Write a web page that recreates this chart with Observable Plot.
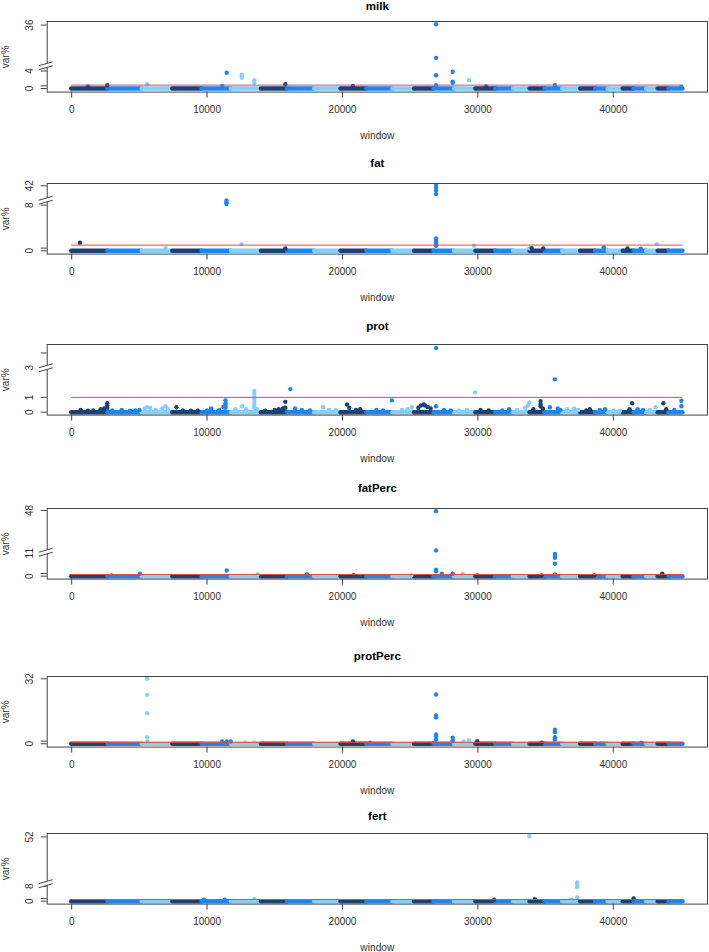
<!DOCTYPE html>
<html><head><meta charset="utf-8">
<script src="https://cdn.jsdelivr.net/npm/d3@7"></script>
<script src="https://cdn.jsdelivr.net/npm/@observablehq/plot@0.6"></script>
<style>
body{margin:0;background:#fff;}
#root{position:relative;width:709px;height:952px;overflow:hidden;background:#fff;}
.panel{position:absolute;left:0;}
</style></head><body><div id="root"></div>
<script>
// ---------------- DATA ----------------
const panelNames = ["milk", "fat", "prot", "fatPerc", "protPerc", "fert"];
// chromosome boundaries (window index)
const chromBounds = [0, 2680, 5210, 7470, 9640, 11800, 14010, 15950, 17940, 19890, 21800, 23720, 25320, 26770, 28270, 29850, 31320, 32620, 33850, 34960, 36260, 37590, 38690, 39620, 40730, 41540, 42460, 43310, 44120, 45150];
const xTicks = [0, 10000, 20000, 30000, 40000];
const thresholds = [0.77, 1.0, 1.0, 0.8, 0.7, 0.9];

const milkPeaks = [[1200,0.45],[2630,0.77],[5580,1.0],[11110,0.6],[11450,3.62],[12560,3.17],[12560,2.49],[13490,1.9],[13490,1.29],[15780,1.0],[20770,0.6],[26910,36.2],[26910,28.6],[26910,3.03],[26910,0.77],[28140,3.85],[28140,1.58],[28140,1.29],[29350,1.9],[30600,0.45],[35690,0.77],[45030,0.4]];
const fatPeaks = [[610,1.4],[6930,0.47],[11430,8.81],[11430,8.46],[11430,8.18],[12560,1.17],[15780,0.4],[26910,42.12],[26910,41.65],[26910,41.12],[26910,40.55],[26910,2.15],[26910,1.87],[26910,1.58],[26910,1.17],[26910,0.88],[29720,0.88],[33800,0.45],[33970,0.47],[34830,0.4],[39300,0.58],[41050,0.4],[42030,0.35],[43210,1.17]];
const protPeaks = [[660,0.15],[1200,0.1],[1600,0.12],[2140,0.2],[2400,0.25],[2630,0.6],[2630,0.45],[2630,0.3],
 [3000,0.12],[3700,0.15],[4300,0.1],[4700,0.12],[5000,0.15],
 [5400,0.25],[5580,0.33],[5800,0.28],[6200,0.15],[6700,0.25],[6930,0.4],[7100,0.2],
 [7740,0.33],[8200,0.12],[8800,0.1],[9300,0.1],
 [10000,0.12],[10300,0.25],[10900,0.15],[11200,0.35],[11360,0.8],[11360,0.6],[11360,0.45],[11360,0.3],
 [12100,0.2],[12590,0.4],[12900,0.2],[13490,1.43],[13490,1.25],[13490,1.05],[13490,0.85],[13490,0.65],[13490,0.45],[13490,0.3],[13700,0.2],
 [14300,0.1],[15000,0.15],[15300,0.2],[15600,0.25],[15780,0.7],[15780,0.3],
 [16150,1.56],[16500,0.25],[17000,0.15],[17600,0.12],
 [18560,0.33],[19000,0.15],[19500,0.15],
 [20330,0.52],[20500,0.3],[21000,0.15],[21310,0.2],
 [22500,0.15],[23000,0.12],[23650,0.8],
 [24400,0.15],[24800,0.2],[25120,0.33],
 [25600,0.3],[25800,0.45],[26000,0.52],[26100,0.45],[26300,0.35],[26500,0.25],
 [26910,4.34],[26910,0.4],[27500,0.15],[28000,0.12],
 [28600,0.12],[29200,0.15],[29790,1.34],
 [30200,0.15],[30800,0.12],
 [31800,0.12],[32310,0.2],
 [32900,0.15],[33500,0.3],[33700,0.45],[33800,0.66],
 [34100,0.2],[34630,0.75],[34630,0.55],[34630,0.4],[34800,0.25],
 [35320,0.33],[35690,2.22],[35900,0.25],[36100,0.15],
 [36600,0.2],[37100,0.25],[37400,0.15],
 [38000,0.12],[38270,0.2],
 [39000,0.15],[39400,0.2],
 [40000,0.12],[40500,0.1],
 [41200,0.2],[41390,0.6],
 [41800,0.2],[42200,0.15],
 [42700,0.15],[43130,0.33],
 [43700,0.6],[43900,0.2],
 [44500,0.15],[45030,0.77],[45030,0.4]];
const fatPercPeaks = [[2930,0.4],[5040,1.15],[11450,2.7],[13740,0.95],[17380,0.95],[20820,0.5],[25080,0.5],[26910,47.7],[26910,28.9],[26910,3.06],[26910,2.4],[27340,1.15],[28140,1.15],[28880,1.1],[29960,0.4],[34700,0.4],[35690,10.7],[35690,9.76],[35690,8.8],[35690,5.93],[35690,0.8],[38600,0.4],[43620,1.15]];
const protPercPeaks = [[5580,32.0],[5580,24.1],[5580,15.1],[5580,3.25],[5580,1.13],[11110,1.13],[11450,1.13],[11750,1.13],[12800,0.6],[13490,0.6],[20770,1.13],[22040,0.6],[26910,24.3],[26910,13.9],[26910,13.1],[26910,4.6],[26910,3.74],[26910,1.97],[28140,2.95],[28140,1.62],[28940,1.13],[29350,1.62],[29960,1.28],[34710,0.6],[35690,6.9],[35690,5.7],[35690,3.25],[35690,2.1],[42070,0.5]];
const fertPeaks = [[9760,0.8],[11300,0.8],[13490,1.2],[31200,0.8],[33800,52.37],[34210,1.0],[36900,0.9],[37330,27.7],[37330,9.07],[37330,7.63],[37330,1.97],[41500,1.44]];

const milkTicks = [0, 4, 36];      const milkTickLabels = ["0", "4", "36"];
const fatTicks = [0, 8, 42];       const fatTickLabels = ["0", "8", "42"];
const protTicks = [0, 1, 3, 4];    const protTickLabels = ["0", "1", "3", ""];
const fatPercTicks = [0, 11, 48];  const fatPercTickLabels = ["0", "11", "48"];
const protPercTicks = [0, 32];     const protPercTickLabels = ["0", "32"];
const fertTicks = [0, 8, 52];      const fertTickLabels = ["0", "8", "52"];

// ---------------- LAYOUT ----------------
const W = 709, MT = 26, BOXH = 70.6, MB = 54, ML = 46.7, MR = 2;
const FONT = "'Liberation Sans', Arial, Helvetica, sans-serif";
const colors = ["#1a4374", "#1c86ee", "#87cefa"];
const RED = "#e5484b";
const xDomain = [-1806, 46956];

// broken y axes: [value, px offset from box top]
const layout = [
  {pts: milkPeaks, ticks: milkTicks, labels: milkTickLabels, minor: [0.6], map: [[0,67],[5.2,44.3],[26.8,44.3],[36,3.6]], brk: 5.2, boxTop: 20.7, titleOff: 15},
  {pts: fatPeaks, ticks: fatTicks, labels: fatTickLabels, minor: [0.47], map: [[0,67.3],[8.86,16.7],[39.48,16.7],[42,2.3]], brk: 8.86, boxTop: 182.7, titleOff: 19.7},
  {pts: protPeaks, ticks: protTicks, labels: protTickLabels, minor: [], map: [[0,67.7],[4,8.5]], brk: 3, boxTop: 344.3, titleOff: 18.3},
  {pts: fatPercPeaks, ticks: fatPercTicks, labels: fatPercTickLabels, minor: [1.3], map: [[0,67.7],[11.48,43.7],[28.05,43.7],[48,2]], brk: 11.48, boxTop: 508, titleOff: 19.7},
  {pts: protPercPeaks, ticks: protPercTicks, labels: protPercTickLabels, minor: [1.3], map: [[0,67.3],[32,2.3]], brk: null, boxTop: 676, titleOff: 20},
  {pts: fertPeaks, ticks: fertTicks, labels: fertTickLabels, minor: [1.4], map: [[0,67.7],[9.33,50.2],[27.04,50.2],[52,3.4]], brk: 9.33, boxTop: 833.3, titleOff: 17.3}
];

const chroms = d3.range(chromBounds.length - 1).map(i => ({start: chromBounds[i], end: chromBounds[i + 1], c: i % 3}));
const chromOf = w => Math.max(0, d3.bisectRight(chromBounds, w) - 1);

function breakMark(u) {
  return (index, scales) => {
    const g = d3.create("svg:g");
    const y = scales.y(u);
    const x0 = ML - 8, x1 = ML + 6;
    g.append("path").attr("d", `M${x0},${y + 0.5}L${x1},${y - 3.5}L${x1},${y + 0.5}L${x0},${y + 4.5}Z`).attr("fill", "white");
    g.append("path").attr("d", `M${x0},${y + 0.5}L${x1},${y - 3.5}M${x0},${y + 4.5}L${x1},${y + 0.5}`).attr("stroke", "#444").attr("fill", "none").attr("stroke-width", 1);
    return g.node();
  };
}

const root = document.getElementById("root");
panelNames.forEach((name, k) => {
  const p = layout[k];
  const H = MT + BOXH + MB;
  // broken-axis transform: value -> offset below box top (piecewise linear)
  const f = d3.scaleLinear().domain(p.map.map(d => d[0])).range(p.map.map(d => d[1]));
  const pts = p.pts.map(([w, v]) => ({w, u: f(v), c: chromOf(w) % 3}));
  const base = chroms.map(d => ({...d, u: f(0)}));
  const tickData = p.ticks.map((v, i) => ({u: f(v), t: p.labels[i]})).filter(d => d.t !== "");
  const tickPos = p.ticks.concat(p.minor).map(f);
  const marks = [
    Plot.ruleY(base, {x1: "start", x2: "end", y: "u", stroke: "c", strokeWidth: 4.4, strokeLinecap: "round"}),
    Plot.dot(pts, {x: "w", y: "u", fill: "c", r: 2.2}),
    Plot.ruleY([f(thresholds[k])], {x1: chromBounds[0], x2: chromBounds[chromBounds.length - 1], stroke: RED, strokeWidth: 1}),
    Plot.frame({stroke: "#444"}),
    Plot.axisX({ticks: xTicks, tickSize: 6, tickPadding: 8, tickFormat: d3.format("d"), label: null, stroke: "#444", fill: "#333", fontSize: 10}),
    Plot.axisY({ticks: tickPos, tickSize: 6, tickFormat: () => "", label: null, stroke: "#444"}),
    Plot.text(tickData, {y: "u", text: "t", frameAnchor: "left", dx: -17.5, rotate: -90, textAnchor: "middle", lineAnchor: "middle", fontSize: 10, fill: "#333"}),
    Plot.text([name], {frameAnchor: "top", dy: -p.titleOff, lineAnchor: "middle", fontWeight: "bold", fontSize: 11.5, fill: "#000"}),
    Plot.text(["window"], {frameAnchor: "bottom", dy: 43.4, lineAnchor: "middle", fontSize: 10.2, fill: "#333"}),
    Plot.text(["var%"], {frameAnchor: "left", dx: -41.2, rotate: -90, textAnchor: "middle", lineAnchor: "middle", fontSize: 10, fill: "#333"})
  ];
  if (p.brk !== null) marks.push(breakMark(f(p.brk)));
  const chart = Plot.plot({
    width: W, height: H, marginTop: MT, marginBottom: MB, marginLeft: ML, marginRight: MR,
    style: {fontFamily: FONT, fontSize: "10px", color: "#222", background: "transparent", overflow: "visible"},
    x: {domain: xDomain, axis: null},
    y: {domain: [0, BOXH], range: [MT, MT + BOXH], axis: null},
    color: {domain: [0, 1, 2], range: colors},
    marks
  });
  const div = document.createElement("div");
  div.className = "panel";
  div.style.top = (p.boxTop - MT) + "px";
  div.appendChild(chart);
  root.appendChild(div);
});
</script></body></html>
